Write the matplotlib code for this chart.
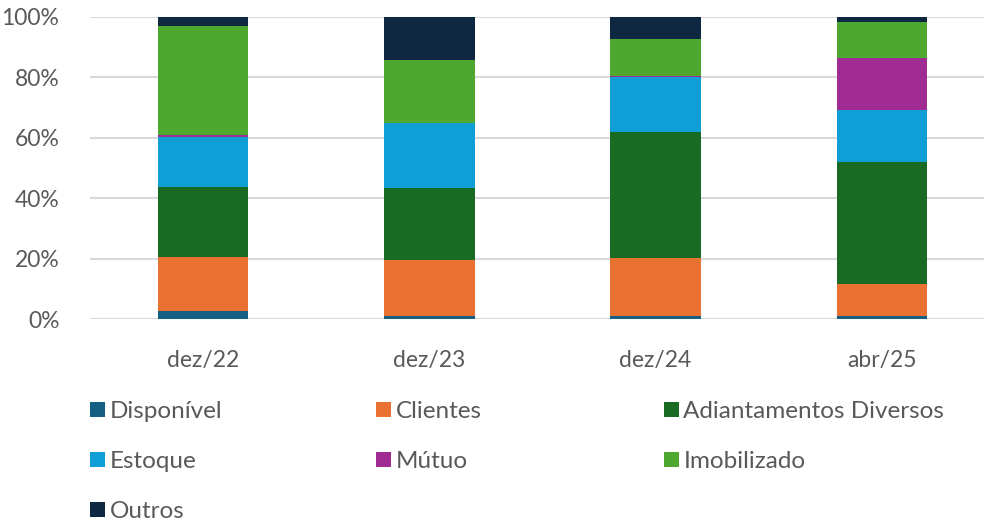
import matplotlib
matplotlib.use('Agg')
import matplotlib.pyplot as plt
import numpy as np

plt.rcParams['font.family'] = ['Lato', 'DejaVu Sans']

# Data (percent of total)
periods = ['dez/22', 'dez/23', 'dez/24', 'abr/25']
disponivel = [2.6, 1.1, 1.1, 1.1]
clientes = [18.0, 18.3, 19.1, 10.4]
adiantamentos = [23.2, 24.0, 41.7, 40.6]
estoque = [16.4, 21.3, 18.2, 17.0]
mutuo = [0.7, 0.0, 0.3, 17.4]
imobilizado = [35.9, 20.9, 12.1, 11.6]
outros = [3.2, 14.4, 7.5, 1.9]

series = [
    ('Disponível', disponivel, '#156082'),
    ('Clientes', clientes, '#E97132'),
    ('Adiantamentos Diversos', adiantamentos, '#196B24'),
    ('Estoque', estoque, '#0F9ED5'),
    ('Mútuo', mutuo, '#A02B93'),
    ('Imobilizado', imobilizado, '#4EA72E'),
    ('Outros', outros, '#0E2841'),
]

fig = plt.figure(figsize=(9.84, 5.21), dpi=100)
ax = fig.add_axes([90 / 984, (521 - 319) / 521, 905 / 984, (319 - 16.7) / 521])

x = np.arange(len(periods))
bottom = np.zeros(len(periods))
handles = {}
for name, vals, color in series:
    vals = np.array(vals)
    b = ax.bar(x, vals, width=0.4, bottom=bottom, color=color, linewidth=0, zorder=3)
    handles[name] = b
    bottom += vals

ax.set_xlim(-0.5, len(periods) - 0.5)
ax.set_ylim(0, 100)
ax.set_yticks(np.arange(0, 101, 20))
ax.set_yticklabels([f'{v}%' for v in range(0, 101, 20)])
ax.set_xticks(x)
ax.set_xticklabels(periods)
ax.yaxis.grid(True, color='#D9D9D9', linewidth=1.5, zorder=0)
ax.set_axisbelow(True)
for s in ax.spines.values():
    s.set_visible(False)
ax.tick_params(axis='both', length=0, labelsize=16.5, colors='#595959')
ax.tick_params(axis='y', pad=22)
ax.tick_params(axis='x', pad=22)

# Legend: three columns placed by hand
columns = [
    (90, ['Disponível', 'Estoque', 'Outros']),
    (376, ['Clientes', 'Mútuo']),
    (664, ['Adiantamentos Diversos', 'Imobilizado']),
]
for xpos, names in columns:
    leg = fig.legend([handles[n] for n in names], names,
                     loc='upper left', bbox_to_anchor=(xpos / 984, (521 - 401) / 521),
                     frameon=False, fontsize=17.5, borderpad=0, borderaxespad=0,
                     handlelength=0.6, handleheight=0.6, handletextpad=0.2,
                     labelspacing=1.2, labelcolor='#595959')

fig.savefig('out.png', dpi=100)
